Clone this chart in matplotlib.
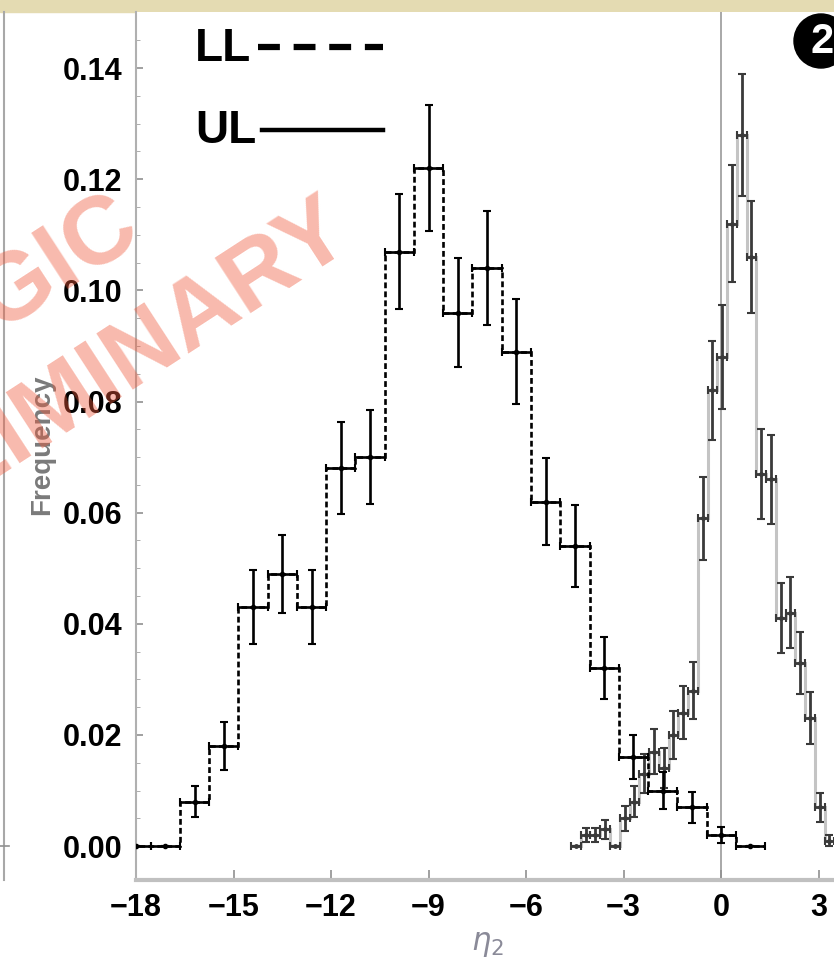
import matplotlib.pyplot as plt
from matplotlib.lines import Line2D
from matplotlib.patches import Circle, Rectangle
import numpy as np

plt.rcParams['font.family'] = ['Liberation Sans', 'DejaVu Sans']

# LL histogram (dashed), bin centres / frequency / error
ll_x = [-18.0, -17.1, -16.2, -15.3, -14.4, -13.5, -12.6, -11.7, -10.8, -9.9, -9.0,
        -8.1, -7.2, -6.3, -5.4, -4.5, -3.6, -2.7, -1.8, -0.9, 0.0, 0.9]
ll_y = [0.0, 0.0, 0.008, 0.018, 0.043, 0.049, 0.043, 0.068, 0.070, 0.107, 0.122,
        0.096, 0.104, 0.089, 0.062, 0.054, 0.032, 0.016, 0.010, 0.007, 0.002, 0.0]
ll_err = [0.0, 0.0, 0.0028, 0.0043, 0.0066, 0.0070, 0.0067, 0.0083, 0.0085, 0.0104, 0.0113,
          0.0098, 0.0102, 0.0094, 0.0079, 0.0073, 0.0056, 0.0040, 0.0033, 0.0028, 0.0015, 0.0]
LL_W = 0.9

# UL histogram (solid), narrower bins
ul_x = [-4.47, -4.17, -3.87, -3.57, -3.27, -2.97, -2.67, -2.37, -2.07, -1.77, -1.47,
        -1.17, -0.87, -0.57, -0.27, 0.03, 0.33, 0.63, 0.93, 1.23, 1.53, 1.83, 2.13,
        2.43, 2.73, 3.03, 3.33]
ul_y = [0.0, 0.002, 0.002, 0.003, 0.0, 0.005, 0.008, 0.013, 0.017, 0.014, 0.020,
        0.024, 0.028, 0.059, 0.082, 0.088, 0.112, 0.128, 0.106, 0.067, 0.066, 0.041, 0.042,
        0.033, 0.023, 0.007, 0.001]
ul_err = [0.0, 0.0013, 0.0013, 0.0017, 0.0, 0.0022, 0.0028, 0.0035, 0.0040, 0.0036, 0.0043,
          0.0048, 0.0051, 0.0075, 0.0089, 0.0093, 0.0105, 0.0110, 0.0100, 0.0081, 0.0080, 0.0063, 0.0064,
          0.0056, 0.0047, 0.0026, 0.0010]
UL_W = 0.3

xticks = [-18, -15, -12, -9, -6, -3, 0, 3]
yticks = [0.00, 0.02, 0.04, 0.06, 0.08, 0.10, 0.12, 0.14]

W, H = 834, 964
fig = plt.figure(figsize=(W / 100, H / 100), dpi=100)
ax = fig.add_axes([136 / W, 1 - 880 / H, 1 - 136 / W, 868 / H])

# UL: light grey step outline + dark error crosses
ul_x = np.array(ul_x)
ul_edges = np.append(ul_x - UL_W / 2, ul_x[-1] + UL_W / 2)
ax.stairs(ul_y, ul_edges, baseline=None, color='#c4c4c4', lw=2.2, zorder=2)
ax.errorbar(ul_x, ul_y, yerr=ul_err, xerr=UL_W / 2, fmt='o', ms=2.5, color='#3a3a3a',
            ecolor='#3a3a3a', elinewidth=2.0, capsize=3, capthick=1.5, zorder=3)

# LL: dashed step outline + black error crosses
ll_x = np.array(ll_x)
ll_edges = np.append(ll_x - LL_W / 2, ll_x[-1] + LL_W / 2)
ax.stairs(ll_y, ll_edges, baseline=None, color='black', lw=1.9,
          linestyle=(0, (2.2, 1.2)), zorder=4)
ax.errorbar(ll_x, ll_y, yerr=ll_err, xerr=LL_W / 2, fmt='o', ms=3, color='black',
            ecolor='black', elinewidth=1.9, capsize=3, capthick=1.5, zorder=5)

ax.axvline(0, color='#9a9a9a', lw=1.2, zorder=1)

ax.set_xlim(-18, 3.47)
ax.set_ylim(-0.0061, 0.1501)
ax.set_xticks(xticks)
ax.set_xticklabels([f'{t}'.replace('-', '\u2212') for t in xticks])
ax.set_yticks(yticks)
ax.set_yticklabels([f'{t:.2f}' for t in yticks])
ax.set_yticks(np.arange(0, 0.15, 0.005), minor=True)

for s in ('top', 'right'):
    ax.spines[s].set_visible(False)
ax.spines['left'].set_color('#b0b0b0')
ax.spines['left'].set_linewidth(1.5)
ax.spines['bottom'].set_color('#c0c0c0')
ax.spines['bottom'].set_linewidth(3)
ax.tick_params(axis='both', which='major', direction='in', colors='#909090',
               labelcolor='black', labelsize=22, width=1.2)
ax.tick_params(axis='y', which='major', length=5, pad=10)
ax.tick_params(axis='y', which='minor', direction='in', length=3, color='#a0a0a0')
ax.tick_params(axis='x', which='major', length=7, pad=9)
for lab in ax.get_xticklabels() + ax.get_yticklabels():
    lab.set_fontweight('bold')

# axis labels
fig.text(42 / W, 1 - 445 / H, 'Frequency', rotation=90, ha='center', va='center',
         fontsize=20, fontweight='bold', color='#7a7a7a')
fig.text(487 / W, 1 - 944 / H, r'$\eta_2$', ha='center', va='center',
         fontsize=22, color='#8a8a98')

# legend drawn by hand
fig.text(195 / W, 1 - 49 / H, 'LL', ha='left', va='center', fontsize=33,
         fontweight='bold', color='black')
fig.text(195 / W, 1 - 131 / H, 'UL', ha='left', va='center', fontsize=33,
         fontweight='bold', color='black')
fig.add_artist(Line2D([258 / W, 383 / W], [1 - 47 / H, 1 - 47 / H], transform=fig.transFigure,
                      color='black', lw=4.5, linestyle=(0, (3.5, 2.2)), solid_capstyle='butt'))
fig.add_artist(Line2D([262 / W, 383 / W], [1 - 130 / H, 1 - 130 / H], transform=fig.transFigure,
                      color='black', lw=3.2))

# slide decorations: top strip, neighbouring panel edge, badge
fig.add_artist(Rectangle((0, 1 - 12 / H), 1, 12 / H, transform=fig.transFigure,
                         color='#e4dbb2', zorder=0))
fig.add_artist(Line2D([4 / W, 4 / W], [1 - 880 / H, 1 - 12 / H], transform=fig.transFigure,
                      color='#a8a8a8', lw=1.5))
fig.add_artist(Line2D([0, 9 / W], [1 - 846 / H, 1 - 846 / H], transform=fig.transFigure,
                      color='#909090', lw=1.2))
fig.add_artist(Circle((8.21, (H - 41) / 100), 0.27, transform=fig.dpi_scale_trans,
                      color='black', zorder=10))
fig.text(822 / W, 1 - 42 / H, '2', ha='center', va='center', fontsize=30,
         fontweight='bold', color='white', zorder=11)

# watermark
for txt, px, py in (('MAGIC', 144, 236), ('PRELIMINARY', 355, 241)):
    fig.text(px / W, 1 - py / H, txt, rotation=33, rotation_mode='anchor', ha='right',
             va='baseline', fontsize=70, fontweight='bold', color='#f05a3c', alpha=0.42,
             zorder=20)

fig.savefig('out.png', dpi=100)
